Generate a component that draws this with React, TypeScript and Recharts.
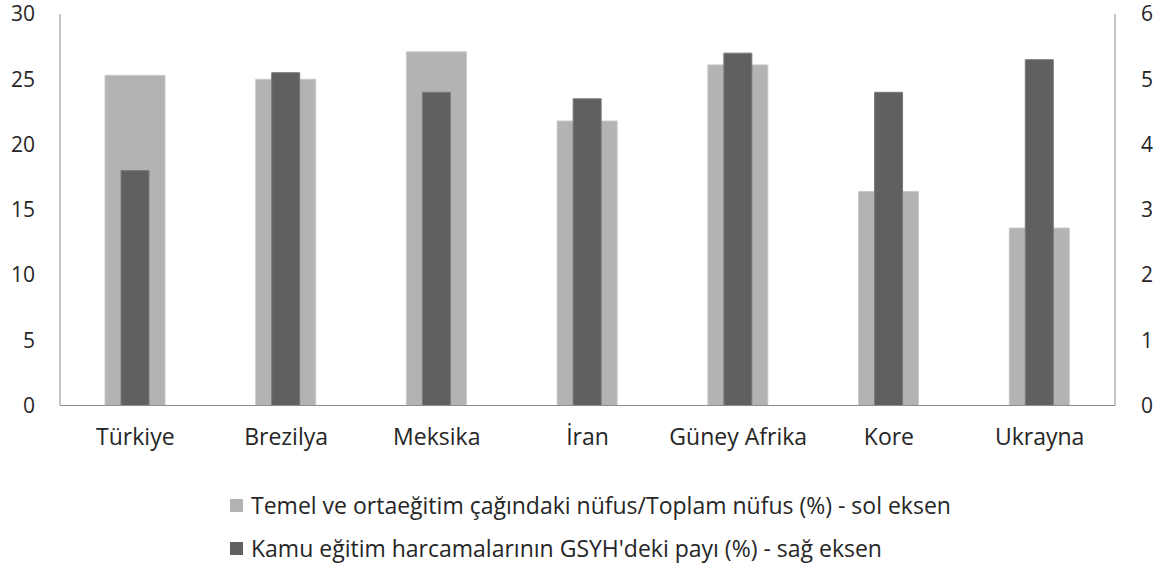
import { BarChart, Bar, XAxis, YAxis } from "recharts";

const countries = ["Türkiye", "Brezilya", "Meksika", "İran", "Güney Afrika", "Kore", "Ukrayna"];
const populationShare = [25.3, 25.0, 27.1, 21.8, 26.1, 16.4, 13.6];
const educationSpending = [3.6, 5.1, 4.8, 4.7, 5.4, 4.8, 5.3];
const leftTicks = [0, 5, 10, 15, 20, 25, 30];
const rightTicks = [0, 1, 2, 3, 4, 5, 6];
const seriesNames = [
  "Temel ve ortaeğitim çağındaki nüfus/Toplam nüfus (%) - sol eksen",
  "Kamu eğitim harcamalarının GSYH'deki payı (%) - sağ eksen",
];

const LIGHT = "#b3b3b3";
const DARK = "#606060";
const AXIS = "#8c8c8c";
const FONT = "'Open Sans', Lato, sans-serif";

const data = countries.map((name, i) => ({
  name,
  population: populationShare[i],
  spending: educationSpending[i],
}));

const tickStyle = { fontSize: 23, fill: "#262626", fontFamily: FONT };
// y tick labels a bit smaller so the top ones stay inside the frame
const yTickStyle = { ...tickStyle, fontSize: 21 };

export default function App() {
  return (
    <div style={{ position: "absolute", left: 0, top: 0, width: 1158, height: 564, background: "#fff" }}>
      <BarChart width={1158} height={564} data={data} margin={{ top: 14, right: 0, left: 10, bottom: 118.5 }}>
        <XAxis
          xAxisId="a"
          dataKey="name"
          height={40}
          tickLine={false}
          tickSize={0}
          tickMargin={23}
          axisLine={{ stroke: AXIS }}
          tick={tickStyle}
          interval={0}
        />
        <XAxis xAxisId="b" dataKey="name" hide />
        <YAxis
          yAxisId="left"
          width={50}
          domain={[0, 30]}
          ticks={leftTicks}
          tickLine={false}
          tickSize={0}
          tickMargin={25}
          axisLine={{ stroke: AXIS }}
          tick={yTickStyle}
        />
        <YAxis
          yAxisId="right"
          orientation="right"
          width={43}
          domain={[0, 6]}
          ticks={rightTicks}
          tickLine={false}
          tickSize={0}
          tickMargin={26}
          axisLine={{ stroke: AXIS }}
          tick={{ ...yTickStyle, textAnchor: "start" }}
        />
        <Bar
          xAxisId="a"
          yAxisId="left"
          dataKey="population"
          barSize={60}
          fill={LIGHT}
          stroke="#c9c9c9"
          strokeWidth={1}
          isAnimationActive={false}
        />
        <Bar
          xAxisId="b"
          yAxisId="right"
          dataKey="spending"
          barSize={28}
          fill={DARK}
          stroke="#7a7a7a"
          strokeWidth={1}
          isAnimationActive={false}
        />
      </BarChart>
      <div style={{ position: "absolute", left: 230, top: 490, fontFamily: FONT, fontSize: 23, color: "#262626" }}>
        {seriesNames.map((label, i) => (
          <div key={label} style={{ display: "flex", alignItems: "center", height: 30, marginBottom: 13, whiteSpace: "nowrap" }}>
            <span style={{ display: "inline-block", width: 13, height: 13, background: i === 0 ? LIGHT : DARK, marginRight: 8 }} />
            <span>{label}</span>
          </div>
        ))}
      </div>
    </div>
  );
}
